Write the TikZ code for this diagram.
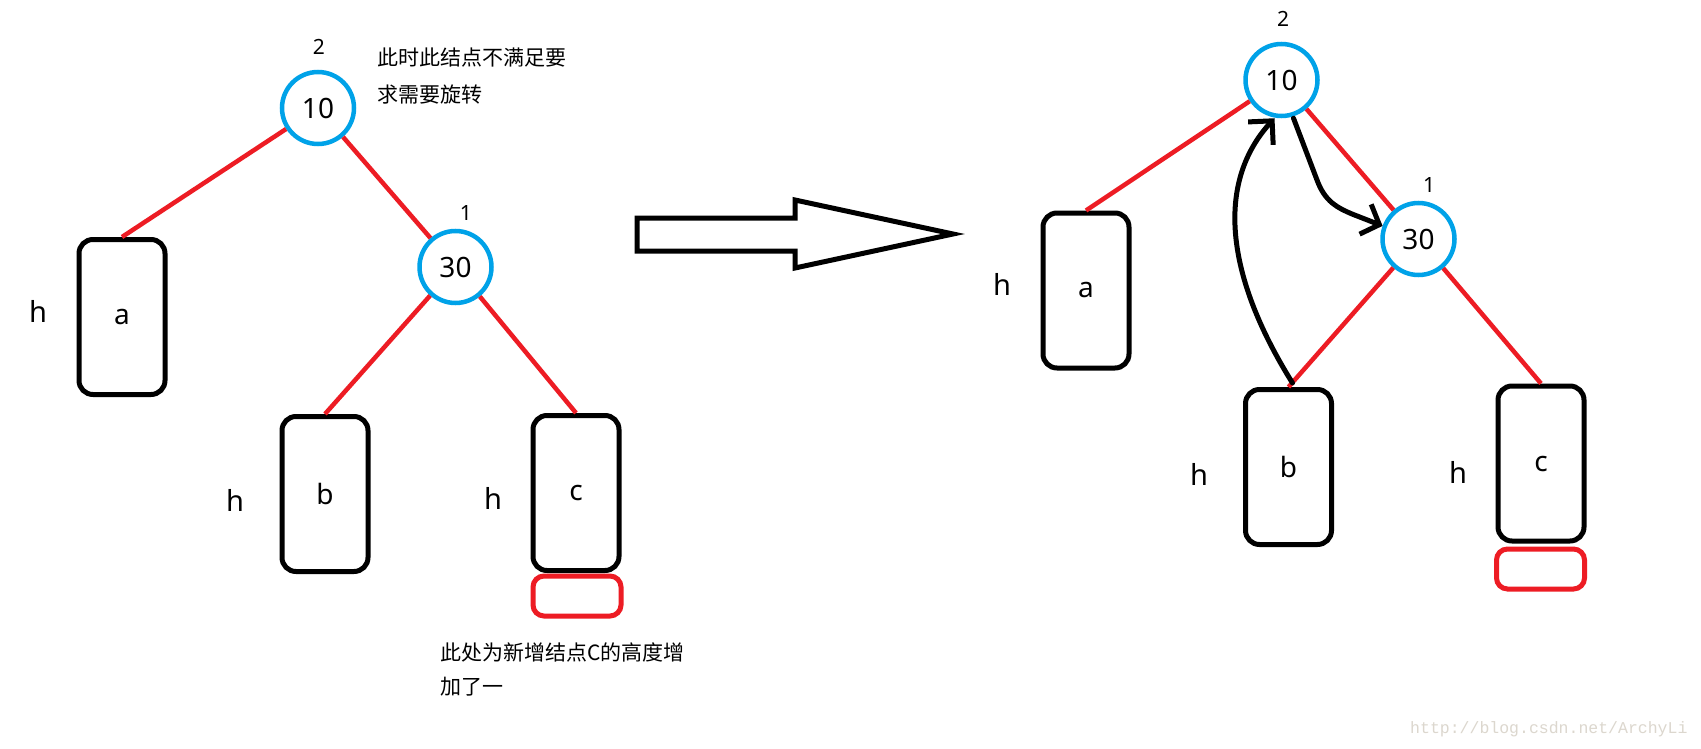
\documentclass[tikz,border=0pt]{standalone}
\usepackage{fontspec}
\setmainfont{Noto Sans}
\newfontfamily\cjk{Noto Sans CJK SC}
\newfontfamily\wmfont{Liberation Mono}
\usetikzlibrary{arrows.meta}
\definecolor{nodeblue}{RGB}{0,162,232}
\definecolor{edgered}{RGB}{237,28,36}
\definecolor{wmgray}{RGB}{220,215,206}
\tikzset{
  avlnode/.style={circle,draw=nodeblue,line width=4.5pt,minimum size=72pt,inner sep=0pt,font=\fontsize{28}{30}\selectfont},
  subtree/.style={rectangle,draw=black,line width=5pt,rounded corners=14pt,minimum width=86pt,minimum height=155pt,inner sep=0pt,font=\fontsize{28}{30}\selectfont},
  growbox/.style={rectangle,draw=edgered,line width=5pt,rounded corners=11pt,minimum width=88pt,minimum height=40pt,inner sep=0pt},
  hlab/.style={font=\fontsize{29}{30}\selectfont,inner sep=0pt},
  numlab/.style={font=\fontsize{21}{23}\selectfont,inner sep=0pt},
  notetext/.style={font=\cjk\fontsize{21}{24}\selectfont,anchor=west,inner sep=0pt},
  redline/.style={draw=edgered,line width=4.5pt},
  rotarrow/.style={draw=black,line width=5pt,line cap=round,line join=round},
}
\begin{document}
\begin{tikzpicture}[x=1pt,y=-1pt]
\useasboundingbox (0,0) rectangle (1701,749);
\fill[white] (0,0) rectangle (1701,749);
% ---------- left tree ----------
\node[avlnode] (L10) at (318,108) {10};
\node[avlnode] (L30) at (455.5,267) {30};
\node[subtree] (La) at (122,317) {a};
\node[subtree] (Lb) at (325,494) {b};
\node[subtree] (Lc) at (576,493) {c};
\node[growbox] (Lg) at (577,596) {};
\node[numlab] (L2) at (319,47) {2};
\node[numlab] (L1) at (466,213) {1};
\node[hlab] (Lha) at (38,311) {h};
\node[hlab] (Lhb) at (235,500) {h};
\node[hlab] (Lhc) at (493,498) {h};
\draw[redline] (L10) -- (La.north);
\draw[redline] (L10) -- (L30);
\draw[redline] (L30) -- (Lb.north);
\draw[redline] (L30) -- (Lc.north);
\node[notetext] (n1) at (377,58) {此时此结点不满足要};
\node[notetext] (n2) at (377,95) {求需要旋转};
\node[notetext] (n3) at (440,652) {此处为新增结点C的高度增};
\node[notetext] (n4) at (440,687) {加了一};
% ---------- big arrow ----------
\draw[black,line width=5pt,line join=miter] (637,218) -- (795,218) -- (795,200) -- (953,234) -- (795,268) -- (795,251) -- (637,251) -- cycle;
% ---------- right tree ----------
\node[avlnode] (R10) at (1281.5,80) {10};
\node[avlnode] (R30) at (1418.5,239) {30};
\node[subtree] (Ra) at (1086,290.5) {a};
\node[subtree] (Rb) at (1288.5,467) {b};
\node[subtree] (Rc) at (1541,463.5) {c};
\node[growbox] (Rg) at (1540.5,569) {};
\node[numlab] (R2) at (1283,19) {2};
\node[numlab] (R1) at (1429,185) {1};
\node[hlab] (Rha) at (1002,284) {h};
\node[hlab] (Rhb) at (1199,474) {h};
\node[hlab] (Rhc) at (1458,472) {h};
\draw[redline] (R10) -- (Ra.north);
\draw[redline] (R10) -- (R30);
\draw[redline] (R30) -- (Rb.north);
\draw[redline] (R30) -- (Rc.north);
% rotation arrows
\draw[rotarrow,-{Straight Barb[length=17pt,width=34pt,line width=5pt]}] ([xshift=4pt,yshift=4pt]Rb.north) .. controls (1222,270) and (1218,180) .. ([xshift=-7pt]R10.south);
\draw[rotarrow,-{Straight Barb[length=15pt,width=32pt,line width=5pt]}] ([xshift=12pt]R10.south) -- (1317,180) .. controls (1325,202) and (1338,208) .. (1352,214) -- (R30.160);
% watermark
\node[font=\wmfont\fontsize{16.5}{18}\selectfont,text=wmgray,anchor=west,inner sep=0pt] (wm) at (1410,729) {http://blog.csdn.net/ArchyLi};
\end{tikzpicture}
\end{document}
